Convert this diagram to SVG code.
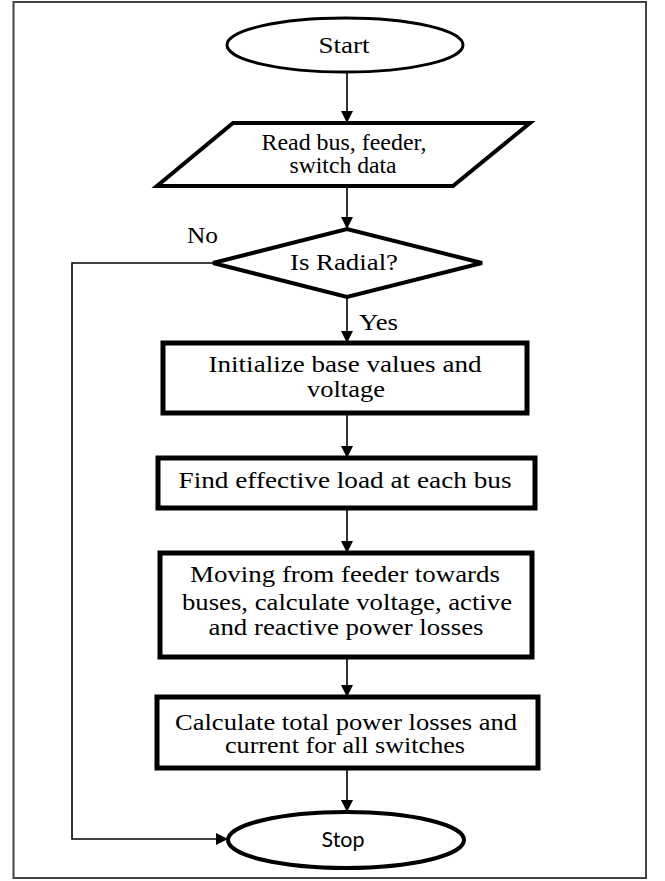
<svg xmlns="http://www.w3.org/2000/svg" width="665" height="881" viewBox="0 0 665 881">
<defs>
<marker id="arr" markerUnits="userSpaceOnUse" markerWidth="12" markerHeight="12" viewBox="0 0 12 12" refX="12" refY="6" orient="auto">
<path d="M0,0 L12,6 L0,12 Z" fill="#000"/>
</marker>
<style>
.frame{fill:#fff;stroke:#444;stroke-width:2}
.shape{fill:#fff;stroke:#000}
.conn{fill:none;stroke:#000;stroke-width:1.6;marker-end:url(#arr)}
.tnr{font-family:"Liberation Serif","Times New Roman",serif;font-size:23px;fill:#000}
.cam{font-family:"Liberation Serif","Times New Roman",serif;font-size:23px;fill:#000;text-anchor:middle}
.sans{font-family:Lato,"Open Sans",sans-serif;font-size:21px;fill:#000;text-anchor:middle}
</style>
</defs>
<rect class="frame" x="13.5" y="2" width="632.5" height="876"/>
<g id="connectors">
<path class="conn" d="M347,72 L347,123"/>
<path class="conn" d="M347,186 L347,229"/>
<path class="conn" d="M347,297 L347,343"/>
<path class="conn" d="M347,413 L347,458"/>
<path class="conn" d="M347,508 L347,553"/>
<path class="conn" d="M347,657 L347,697"/>
<path class="conn" d="M347,768 L347,812"/>
<path class="conn" d="M213,263 L72,263 L72,839 L228,839"/>
</g>
<g id="start">
<ellipse class="shape" cx="345" cy="45" rx="118" ry="27" stroke-width="3"/>
<text class="tnr" x="344" y="53" text-anchor="middle" textLength="51" lengthAdjust="spacingAndGlyphs">Start</text>
</g>
<g id="read">
<polygon class="shape" points="233,123 530,123 453,186 157,186" stroke-width="4"/>
<text class="tnr" x="344" y="150" text-anchor="middle" textLength="165" lengthAdjust="spacingAndGlyphs">Read bus, feeder,</text>
<text class="tnr" x="343" y="173" text-anchor="middle" textLength="107" lengthAdjust="spacingAndGlyphs">switch data</text>
</g>
<g id="decision">
<polygon class="shape" points="213,263 347,229 482,263 347,297" stroke-width="4"/>
<text class="tnr" x="344" y="270" text-anchor="middle" textLength="108" lengthAdjust="spacingAndGlyphs">Is Radial?</text>
</g>
<g id="label-no"><text class="tnr" x="187" y="243" textLength="31" lengthAdjust="spacingAndGlyphs">No</text></g>
<g id="label-yes"><text class="tnr" x="359" y="330" textLength="39" lengthAdjust="spacingAndGlyphs">Yes</text></g>
<g id="init">
<rect class="shape" x="163" y="343" width="364" height="70" stroke-width="5"/>
<text class="cam" x="345" y="372" textLength="273" lengthAdjust="spacingAndGlyphs">Initialize base values and</text>
<text class="cam" x="346" y="397" textLength="78" lengthAdjust="spacingAndGlyphs">voltage</text>
</g>
<g id="load">
<rect class="shape" x="158" y="458" width="377" height="50" stroke-width="5"/>
<text class="cam" x="345" y="488" textLength="333" lengthAdjust="spacingAndGlyphs">Find effective load at each bus</text>
</g>
<g id="moving">
<rect class="shape" x="160" y="553" width="372" height="104" stroke-width="5"/>
<text class="cam" x="345" y="582" textLength="310" lengthAdjust="spacingAndGlyphs">Moving from feeder towards</text>
<text class="cam" x="347" y="610" textLength="330" lengthAdjust="spacingAndGlyphs">buses, calculate voltage, active</text>
<text class="cam" x="346" y="635" textLength="275" lengthAdjust="spacingAndGlyphs">and reactive power losses</text>
</g>
<g id="total">
<rect class="shape" x="157" y="697" width="381" height="71" stroke-width="5"/>
<text class="cam" x="346" y="730" textLength="342" lengthAdjust="spacingAndGlyphs">Calculate total power losses and</text>
<text class="cam" x="345" y="753" textLength="240" lengthAdjust="spacingAndGlyphs">current for all switches</text>
</g>
<g id="stop">
<ellipse class="shape" cx="346" cy="840" rx="118" ry="28" stroke-width="4"/>
<text class="sans" x="343" y="847" textLength="43" lengthAdjust="spacingAndGlyphs">Stop</text>
</g>
</svg>
